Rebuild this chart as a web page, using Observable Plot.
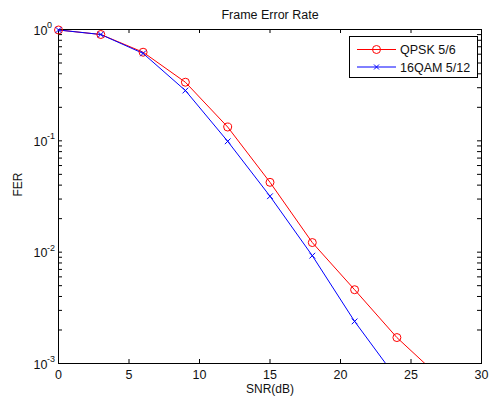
<!DOCTYPE html>
<html><head><meta charset="utf-8">
<script src="https://cdn.jsdelivr.net/npm/d3@7"></script>
<script src="https://cdn.jsdelivr.net/npm/@observablehq/plot@0.6"></script>
<style>
body{margin:0;background:#fff;}
svg{font-family:"Liberation Sans",Arial,Helvetica,sans-serif;}
</style>
</head><body><div id="chart"></div>
<script>
// ---- data ----
const snrQpsk = [0, 3, 6, 9, 12, 15, 18, 21, 24, 27];
const ferQpsk = [0.99, 0.902, 0.625, 0.336, 0.133, 0.0424, 0.0122, 0.0046, 0.00171, 0.00076];
const snrQam = [0, 3, 6, 9, 12, 15, 18, 21, 24];
const ferQam = [0.99, 0.902, 0.61, 0.283, 0.099, 0.0318, 0.0093, 0.00239, 0.00073];
const seriesNames = ["QPSK 5/6", "16QAM 5/12"];
const seriesColors = ["#ff0000", "#0000ff"];
const xTicks = [0, 5, 10, 15, 20, 25, 30];
const yMajor = [1, 0.1, 0.01, 0.001];
const yExponents = ["0", "-1", "-2", "-3"];
const yMinor = [0.002,0.003,0.004,0.005,0.006,0.007,0.008,0.009,
                0.02,0.03,0.04,0.05,0.06,0.07,0.08,0.09,
                0.2,0.3,0.4,0.5,0.6,0.7,0.8,0.9];
const titleText = "Frame Error Rate";
const xLabel = "SNR(dB)";
const yLabel = "FER";

const rows = [
  ...snrQpsk.map((x, i) => ({snr: x, fer: ferQpsk[i], series: seriesNames[0]})),
  ...snrQam.map((x, i) => ({snr: x, fer: ferQam[i], series: seriesNames[1]}))
];
const yLo = yMajor[yMajor.length - 1];
const visible = rows.filter(d => d.fer >= yLo);
const yLabelRows = yMajor.map((v, i) => ({v, e: yExponents[i]}));
const yAllTicks = [...yMajor, ...yMinor];

const W = 489, H = 402, ML = 58, MR = 8, MT = 29, MB = 39;
const FW = W - ML - MR, FH = H - MT - MB, TL = 4;
const FS = 12.5;
const chart = Plot.plot({
  width: W, height: H,
  marginLeft: ML, marginRight: MR, marginTop: MT, marginBottom: MB,
  style: {background: "#fff", color: "#111", fontSize: FS + "px"},
  x: {domain: [0, 30], label: null},
  y: {type: "log", domain: [0.001, 1], label: null, axis: null},
  color: {domain: seriesNames, range: seriesColors},
  marks: [
    // inward ticks (bottom, top, left, right)
    Plot.tickX(xTicks, {x: d => d, insetTop: FH - TL, stroke: "#000"}),
    Plot.tickX(xTicks, {x: d => d, insetBottom: FH - TL, stroke: "#000"}),
    Plot.tickY(yAllTicks, {y: d => d, insetRight: FW - TL, stroke: "#000"}),
    Plot.tickY(yAllTicks, {y: d => d, insetLeft: FW - TL, stroke: "#000"}),
    Plot.frame({stroke: "#000", strokeWidth: 1}),
    // x tick labels
    Plot.axisX({anchor: "bottom", ticks: xTicks, tickSize: 0, tickPadding: 7, fontSize: FS, label: null}),
    // y tick labels 10^k
    Plot.text(yLabelRows, {y: "v", text: () => "10", frameAnchor: "left", textAnchor: "start", dx: -25, dy: 1, fontSize: FS, fill: "#111"}),
    Plot.text(yLabelRows, {y: "v", text: "e", frameAnchor: "left", textAnchor: "start", dx: -11.5, dy: -4.5, fontSize: 9, fill: "#111"}),
    // data
    Plot.line(rows, {x: "snr", y: "fer", z: "series", stroke: "series", strokeWidth: 1, clip: true}),
    Plot.dot(visible.filter(d => d.series === seriesNames[0]), {x: "snr", y: "fer", r: 4, stroke: "series", fill: "none", strokeWidth: 1}),
    Plot.dot(visible.filter(d => d.series === seriesNames[1]), {x: "snr", y: "fer", r: 2.7, symbol: "times", stroke: "series", strokeWidth: 1}),
    // titles
    Plot.text([titleText], {frameAnchor: "top", lineAnchor: "middle", dy: -15, fontSize: FS, fill: "#111"}),
    Plot.text([xLabel], {frameAnchor: "bottom", lineAnchor: "middle", dy: 26, fontSize: 12, fill: "#111"}),
    Plot.text([yLabel], {frameAnchor: "left", rotate: -90, dx: -40.5, fontSize: 12, fill: "#111"})
  ]
});
document.getElementById("chart").appendChild(chart);

// legend box
const svg = d3.select(chart);
const lg = svg.append("g").attr("class", "legend").attr("text-anchor", "start");
lg.append("rect").attr("x", 349.5).attr("y", 36.5).attr("width", 128).attr("height", 41)
  .attr("fill", "#fff").attr("stroke", "#000").attr("stroke-width", 1);
seriesNames.forEach((name, i) => {
  const y = 49.5 + i * 17.5;
  const c = seriesColors[i];
  lg.append("line").attr("x1", 357).attr("x2", 396).attr("y1", y).attr("y2", y)
    .attr("stroke", c).attr("stroke-width", 1);
  if (i === 0) {
    lg.append("circle").attr("cx", 376.5).attr("cy", y).attr("r", 4)
      .attr("fill", "none").attr("stroke", c);
  } else {
    lg.append("path").attr("d", `M${374},${y-2.5}L${379},${y+2.5}M${374},${y+2.5}L${379},${y-2.5}`)
      .attr("stroke", c).attr("fill", "none");
  }
  lg.append("text").attr("x", 400).attr("y", y + 4.5).attr("font-size", FS)
    .attr("text-anchor", "start").attr("fill", "#111").text(name);
});
</script>
</body></html>
